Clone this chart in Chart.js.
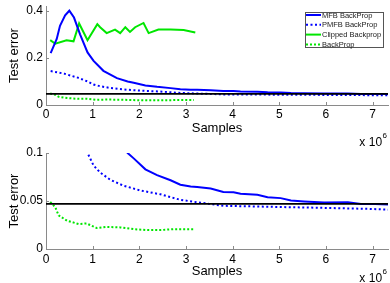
<!DOCTYPE html>
<html>
<head>
<meta charset="utf-8">
<script src="https://cdn.jsdelivr.net/npm/chart.js@4.4.0/dist/chart.umd.min.js"></script>
<style>
html, body { margin: 0; padding: 0; background: #fff; }
#wrap { position: relative; width: 390px; height: 283px; overflow: hidden; }
#top { position: absolute; left: 0; top: 0; }
#bottom { position: absolute; left: 0; top: 141px; }
</style>
</head>
<body>
<div id="wrap">
  <canvas id="top" width="390" height="150"></canvas>
  <canvas id="bottom" width="390" height="142"></canvas>
</div>
<script>
// samples are in units of 10^6
var mfbX = [0.1, 0.23, 0.3, 0.41, 0.5, 0.6, 0.73, 0.89, 1.02, 1.23, 1.52, 1.75, 1.88, 2.13, 2.38, 2.67, 2.88, 3.1, 3.24, 3.53, 3.8, 4.02, 4.17, 4.53, 4.75, 5.03, 5.25, 5.53, 5.96, 6.47, 6.75, 7.05, 7.33];
var mfbY = [0.22, 0.28, 0.336, 0.38, 0.4, 0.371, 0.3, 0.223, 0.187, 0.145, 0.114, 0.1, 0.0944, 0.083, 0.077, 0.0716, 0.067, 0.065, 0.0645, 0.063, 0.0593, 0.059, 0.0575, 0.0565, 0.054, 0.053, 0.0505, 0.0495, 0.0484, 0.0487, 0.047, 0.047, 0.0463];

var pmfbX = [0.1, 0.39, 0.68, 0.89, 1.02, 1.16, 1.38, 1.66, 2.02, 2.45, 2.88, 3.24, 3.5, 3.8, 4.5, 5.25, 5.8, 6.33, 6.9, 7.33];
var pmfbY = [0.144, 0.133, 0.116, 0.1, 0.087, 0.0797, 0.072, 0.066, 0.061, 0.057, 0.0512, 0.0487, 0.047, 0.045, 0.0443, 0.0435, 0.043, 0.0424, 0.0418, 0.041];

var clipX = [0.09, 0.2, 0.44, 0.59, 0.71, 0.89, 1.1, 1.16, 1.3, 1.48, 1.59, 1.7, 1.8, 1.91, 2.09, 2.2, 2.41, 2.67, 2.95, 3.2];
var clipY = [0.275, 0.26, 0.275, 0.27, 0.346, 0.275, 0.343, 0.33, 0.305, 0.32, 0.305, 0.33, 0.31, 0.33, 0.348, 0.305, 0.32, 0.32, 0.318, 0.308];

var bpX = [0.09, 0.2, 0.27, 0.45, 0.7, 0.87, 1.09, 1.3, 1.59, 1.88, 2.17, 2.45, 2.73, 3.17];
var bpY = [0.049, 0.0435, 0.035, 0.0295, 0.026, 0.0266, 0.0218, 0.023, 0.0225, 0.0207, 0.0197, 0.0197, 0.0207, 0.0207];

var targetError = 0.047;

var xMax = 7.33;
var xTicks = [0, 1, 2, 3, 4, 5, 6, 7];
var topYTicks = [0, 0.2, 0.4];
var bottomYTicks = [0, 0.05, 0.1];

var FONT = "'Liberation Sans', Arial, Helvetica, sans-serif";
var AXIS_GRAY = "#8a8a8a";

function pts(xs, ys){
	return xs.map(function(x, i){ return {x: x, y: ys[i]}; });
}

// MATLAB style ticks pointing into the plot
var innerTicks = {
	id: "innerTicks",
	afterDraw: function(chart){
		var ctx = chart.ctx, a = chart.chartArea, sx = chart.scales.x, sy = chart.scales.y;
		ctx.save();
		ctx.strokeStyle = AXIS_GRAY;
		ctx.lineWidth = 1;
		ctx.beginPath();
		sx.ticks.forEach(function(t){
			var p = Math.round(sx.getPixelForValue(t.value)) + 0.5;
			ctx.moveTo(p, a.bottom);
			ctx.lineTo(p, a.bottom - 3);
		});
		sy.ticks.forEach(function(t){
			var p = Math.round(sy.getPixelForValue(t.value)) + 0.5;
			ctx.moveTo(a.left, p);
			ctx.lineTo(a.left + 3, p);
		});
		ctx.stroke();
		ctx.restore();
	}
};

// "x 10^6" multiplier under the right end of the x axis
var exponent = {
	id: "exponent",
	afterDraw: function(chart, args, opts){
		var ctx = chart.ctx;
		var right = chart.chartArea.right - 1;
		var base = opts.baseline;
		ctx.save();
		ctx.fillStyle = "#000";
		ctx.textBaseline = "alphabetic";
		ctx.textAlign = "right";
		ctx.font = "8px " + FONT;
		ctx.fillText("6", right, base - 8);
		var w = ctx.measureText("6").width;
		ctx.font = "12px " + FONT;
		ctx.fillText("x 10", right - w - 0.5, base);
		ctx.restore();
	}
};

var legendBox = {
	id: "legendBox",
	afterDraw: function(chart, args, opts){
		if(!opts.show) return;
		var ctx = chart.ctx, a = chart.chartArea;
		var x0 = a.right - 83, y0 = a.top + 6, w = 78, h = 35;
		ctx.save();
		ctx.fillStyle = "#fff";
		ctx.fillRect(x0, y0, w, h);
		ctx.strokeStyle = "#555";
		ctx.lineWidth = 1;
		ctx.strokeRect(x0 + 0.5, y0 + 0.5, w, h);
		ctx.font = "7.5px " + FONT;
		ctx.textBaseline = "middle";
		ctx.textAlign = "left";
		var items = chart.data.datasets.filter(function(d){ return d.label; });
		items.forEach(function(d, i){
			var y = y0 + 3 + i * 9.8;
			ctx.strokeStyle = d.borderColor;
			ctx.lineWidth = 2;
			ctx.setLineDash(d.borderDash || []);
			ctx.beginPath();
			ctx.moveTo(x0 + 1, y);
			ctx.lineTo(x0 + 16, y);
			ctx.stroke();
			ctx.setLineDash([]);
			ctx.fillStyle = "#222";
			ctx.fillText(d.label, x0 + 17, y + 0.5);
		});
		ctx.restore();
	}
};

function makeDatasets(){
	return [
		{data: [{x: 0, y: targetError}, {x: xMax, y: targetError}], borderColor: "#000", borderWidth: 1.6},
		{label: "MFB BackProp", data: pts(mfbX, mfbY), borderColor: "#0000ff", borderWidth: 2},
		{label: "PMFB BackProp", data: pts(pmfbX, pmfbY), borderColor: "#0000ff", borderWidth: 2, borderDash: [2, 2.5]},
		{label: "Clipped Backprop", data: pts(clipX, clipY), borderColor: "#00e600", borderWidth: 2},
		{label: "BackProp", data: pts(bpX, bpY), borderColor: "#00e600", borderWidth: 2, borderDash: [2, 2]}
	];
}

function makeChart(id, o){
	return new Chart(document.getElementById(id), {
		type: "line",
		data: {datasets: makeDatasets()},
		plugins: [innerTicks, exponent, legendBox],
		options: {
			responsive: false,
			animation: false,
			events: [],
			layout: {padding: {left: 0, right: 2, top: o.top, bottom: 0}},
			elements: {point: {radius: 0}, line: {tension: 0, fill: false}},
			plugins: {
				legend: {display: false},
				tooltip: {enabled: false},
				exponent: {baseline: o.expBase},
				legendBox: {show: o.legend}
			},
			scales: {
				x: {
					type: "linear",
					min: 0,
					max: xMax,
					afterBuildTicks: function(s){ s.ticks = xTicks.map(function(v){ return {value: v}; }); },
					ticks: {color: "#000", font: {family: FONT, size: 12}, padding: o.xPad, maxRotation: 0, autoSkip: false,
						callback: function(v){ return String(v); }},
					grid: {display: false, drawTicks: false},
					border: {color: AXIS_GRAY, width: 1},
					title: {display: true, text: "Samples", color: "#000", font: {family: FONT, size: 13}, padding: {top: 0, bottom: o.titlePad}},
					afterFit: function(s){ s.height = o.axisH; s.paddingLeft = 0; s.paddingRight = 0; }
				},
				y: {
					type: "linear",
					min: 0,
					max: o.yMax,
					afterBuildTicks: function(s){ s.ticks = o.yTicks.map(function(v){ return {value: v}; }); },
					ticks: {color: "#000", font: {family: FONT, size: 12}, padding: 3,
						callback: function(v){ return String(v); }},
					grid: {display: false, drawTicks: false},
					border: {color: AXIS_GRAY, width: 1},
					title: {display: true, text: "Test error", color: "#000", font: {family: FONT, size: 13}, padding: {top: 7, bottom: 0}},
					afterFit: function(s){ s.width = 46; s.paddingTop = 0; s.paddingBottom = 0; }
				}
			}
		}
	});
}

makeChart("top", {yMax: 0.42, yTicks: topYTicks, top: 6, axisH: 45, titlePad: 14, xPad: 2, expBase: 145.5, legend: true});
makeChart("bottom", {yMax: 0.1, yTicks: bottomYTicks, top: 12, axisH: 34, titlePad: 4, xPad: 3, expBase: 141, legend: false});
</script>
</body>
</html>
